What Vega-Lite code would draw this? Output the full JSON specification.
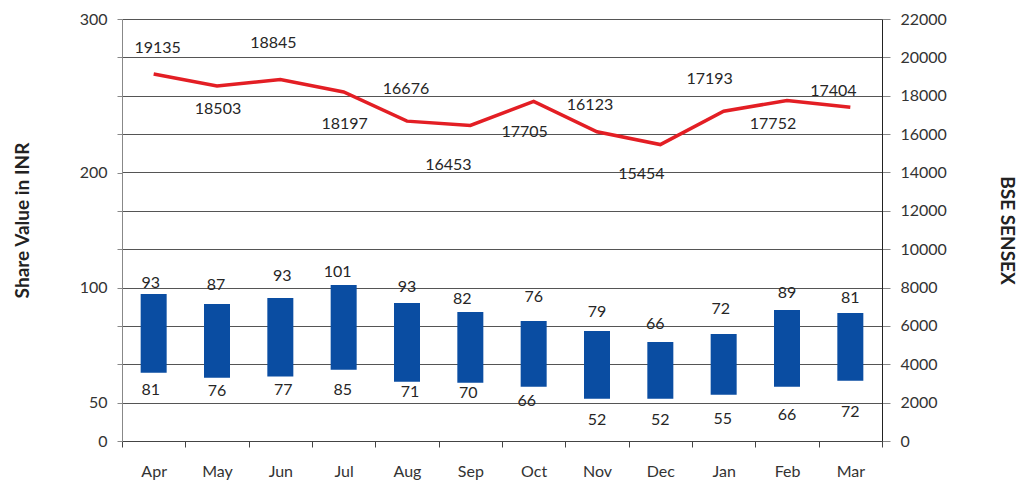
{
  "$schema": "https://vega.github.io/schema/vega-lite/v6.json",
  "width": 760,
  "height": 422,
  "autosize": "none",
  "padding": {"left": 122, "top": 19, "right": 139, "bottom": 44},
  "background": "white",
  "config": {
    "view": {"stroke": null},
    "font": "Lato",
    "axis": {"labelFont": "Lato", "titleFont": "Lato"},
    "text": {"font": "Lato"}
  },
  "data": {
    "values": [
      {"month": "Apr", "sensex": 19135, "high": 93, "low": 81, "bar_top": 97.2, "bar_bottom": 63.0},
      {"month": "May", "sensex": 18503, "high": 87, "low": 76, "bar_top": 92.8, "bar_bottom": 60.8},
      {"month": "Jun", "sensex": 18845, "high": 93, "low": 77, "bar_top": 95.4, "bar_bottom": 61.3},
      {"month": "Jul", "sensex": 18197, "high": 101, "low": 85, "bar_top": 102.2, "bar_bottom": 64.3},
      {"month": "Aug", "sensex": 16676, "high": 93, "low": 71, "bar_top": 93.3, "bar_bottom": 59.1},
      {"month": "Sep", "sensex": 16453, "high": 82, "low": 70, "bar_top": 89.4, "bar_bottom": 58.6},
      {"month": "Oct", "sensex": 17705, "high": 76, "low": 66, "bar_top": 85.4, "bar_bottom": 56.9},
      {"month": "Nov", "sensex": 16123, "high": 79, "low": 52, "bar_top": 81.1, "bar_bottom": 51.7},
      {"month": "Dec", "sensex": 15454, "high": 66, "low": 52, "bar_top": 76.3, "bar_bottom": 51.7},
      {"month": "Jan", "sensex": 17193, "high": 72, "low": 55, "bar_top": 79.8, "bar_bottom": 53.4},
      {"month": "Feb", "sensex": 17752, "high": 89, "low": 66, "bar_top": 90.2, "bar_bottom": 56.9},
      {"month": "Mar", "sensex": 17404, "high": 81, "low": 72, "bar_top": 88.9, "bar_bottom": 59.5}
    ]
  },
  "encoding": {
    "x": {
      "field": "month",
      "type": "nominal",
      "sort": null,
      "scale": {"paddingInner": 0, "paddingOuter": 0},
      "axis": {
        "title": null,
        "labelAngle": 0,
        "tickBand": "extent",
        "labelFontSize": 16,
        "labelColor": "#333333",
        "domainColor": "#444444",
        "tickColor": "#444444",
        "tickSize": 6,
        "labelPadding": 16,
        "grid": false
      }
    }
  },
  "layer": [
    {
      "layer": [
        {
          "mark": {"type": "bar", "size": 26, "color": "#0a4da2"},
          "encoding": {
            "y": {
              "field": "bar_top",
              "type": "quantitative",
              "title": "Share Value in INR",
              "scale": {"type": "linear", "domain": [0, 50, 100, 200, 300], "range": [422, 383.6, 268.5, 153.5, 0], "nice": false, "zero": false},
              "axis": {
                "orient": "left",
                "values": [0, 50, 66.667, 83.333, 100, 133.333, 166.667, 200, 225, 250, 275, 300],
                "tickCount": 40,
                "labelExpr": "indexof([0, 50, 100, 200, 300], datum.value) >= 0 ? datum.value : ''",
                "labelOverlap": false,
                "labelFlush": false,
                "grid": false,
                "domainColor": "#888888",
                "tickColor": "#888888",
                "tickSize": 5,
                "labelPadding": 10,
                "labelFontSize": 16,
                "labelColor": "#333333",
                "titleFontSize": 19,
                "titleFontWeight": "bold",
                "titleColor": "#222222",
                "titlePadding": 47,
                "titleY": 201
              }
            },
            "y2": {"field": "bar_bottom"}
          }
        },
        {
          "mark": {
            "type": "text", "fontSize": 16, "color": "#262626", "baseline": "middle", "align": "center",
            "dx": {"expr": "[-3,-1,2,-6,0,-8,0,0,-5,-3,0,0][indexof(['Apr','May','Jun','Jul','Aug','Sep','Oct','Nov','Dec','Jan','Feb','Mar'], datum.month)]"},
            "dy": {"expr": "[-11,-19,-22,-13,-16,-13,-24,-19,-18,-25,-17,-15][indexof(['Apr','May','Jun','Jul','Aug','Sep','Oct','Nov','Dec','Jan','Feb','Mar'], datum.month)]"}
          },
          "encoding": {
            "y": {"field": "bar_top", "type": "quantitative", "title": "Share Value in INR"},
            "text": {"field": "high", "type": "quantitative"}
          }
        },
        {
          "mark": {
            "type": "text", "fontSize": 16, "color": "#262626", "baseline": "middle", "align": "center",
            "dx": {"expr": "[-3,0,3,-1,3,-2,-7,0,0,-1,0,0][indexof(['Apr','May','Jun','Jul','Aug','Sep','Oct','Nov','Dec','Jan','Feb','Mar'], datum.month)]"},
            "dy": {"expr": "[17,13,13,20,10,10,14,21,21,24,28,31][indexof(['Apr','May','Jun','Jul','Aug','Sep','Oct','Nov','Dec','Jan','Feb','Mar'], datum.month)]"}
          },
          "encoding": {
            "y": {"field": "bar_bottom", "type": "quantitative", "title": "Share Value in INR"},
            "text": {"field": "low", "type": "quantitative"}
          }
        }
      ]
    },
    {
      "layer": [
        {
          "mark": {"type": "line", "color": "#e31e24", "strokeWidth": 3.5},
          "encoding": {
            "y": {
              "field": "sensex",
              "type": "quantitative",
              "title": "BSE SENSEX",
              "scale": {"domain": [0, 22000], "nice": false, "zero": true},
              "axis": {
                "orient": "right",
                "values": [0, 2000, 4000, 6000, 8000, 10000, 12000, 14000, 16000, 18000, 20000, 22000],
                "tickCount": 40,
                "format": "d",
                "grid": true,
                "gridColor": "#555555",
                "gridWidth": 1,
                "domainColor": "#222222",
                "tickColor": "#888888",
                "tickSize": 8,
                "labelPadding": 10,
                "labelFontSize": 16,
                "labelColor": "#333333",
                "labelFlush": false,
                "labelOverlap": false,
                "titleFontSize": 19,
                "titleFontWeight": "bold",
                "titleColor": "#222222",
                "titlePadding": 50
              }
            }
          }
        },
        {
          "mark": {
            "type": "text", "fontSize": 16, "color": "#262626", "baseline": "middle", "align": "center",
            "dx": {"expr": "[4,1,-7,1,-1,-22,-9,-7,-19,-14,-14,-17][indexof(['Apr','May','Jun','Jul','Aug','Sep','Oct','Nov','Dec','Jan','Feb','Mar'], datum.month)]"},
            "dy": {"expr": "[-26,23,-37,32,-32,40,31,-27,29,-32,24,-16][indexof(['Apr','May','Jun','Jul','Aug','Sep','Oct','Nov','Dec','Jan','Feb','Mar'], datum.month)]"}
          },
          "encoding": {
            "y": {"field": "sensex", "type": "quantitative", "title": "BSE SENSEX"},
            "text": {"field": "sensex", "type": "quantitative", "format": "d"}
          }
        }
      ]
    }
  ],
  "resolve": {"scale": {"y": "independent"}}
}
